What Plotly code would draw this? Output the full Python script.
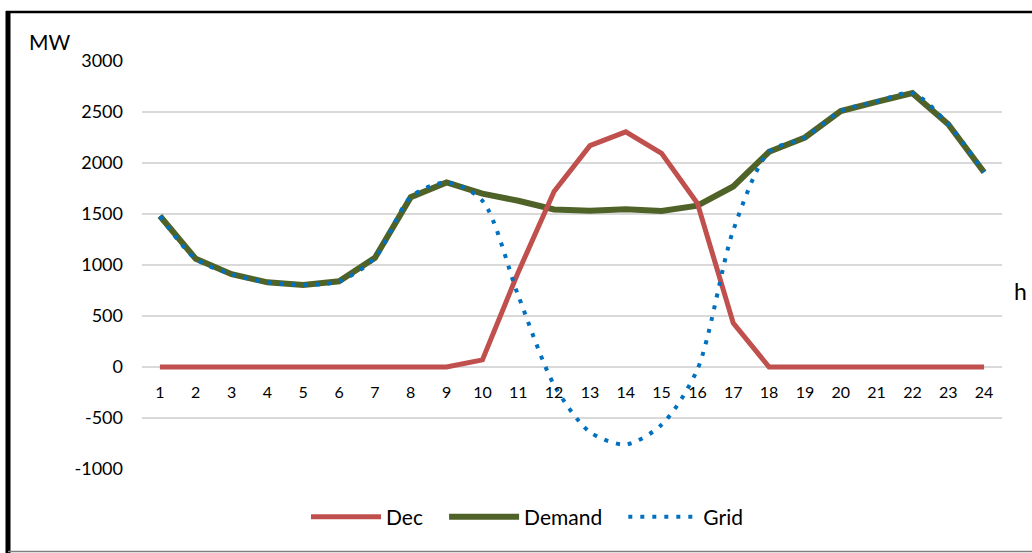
import plotly.graph_objects as go

# Hourly profile (MW)
hours = list(range(1, 25))
dec = [0, 0, 0, 0, 0, 0, 0, 0, 0, 70, 930, 1720, 2170, 2305, 2095, 1605, 430,
       0, 0, 0, 0, 0, 0, 0]
demand = [1480, 1060, 910, 830, 805, 840, 1070, 1665, 1810, 1700, 1630, 1545,
          1532, 1546, 1529, 1582, 1770, 2110, 2250, 2510, 2600, 2685, 2380, 1910]
grid = [d - p for d, p in zip(demand, dec)]

y_ticks = [-1000, -500, 0, 500, 1000, 1500, 2000, 2500, 3000]
y_ticktext = [str(v) for v in y_ticks]  # plain hyphen for negatives

FONT = "Lato"
W, H = 1032, 553
ML, MR, MT, MB = 142, 30, 61, 84
PW, PH = W - ML - MR, H - MT - MB
PAD = "\u00a0" * 3  # extra spacing between legend entries


def px_x(x):
    return (x - ML) / PW


def px_y(y):
    return (H - MB - y) / PH


fig = go.Figure()
fig.add_trace(go.Scatter(
    x=hours, y=demand, name="Demand" + PAD, mode="lines", legendrank=2,
    line=dict(color="#4F6228", width=6),
))
fig.add_trace(go.Scatter(
    x=hours, y=dec, name="Dec" + PAD, mode="lines", legendrank=1,
    line=dict(color="#C0504D", width=5),
))
fig.add_trace(go.Scatter(
    x=hours, y=grid, name="Grid", mode="lines", legendrank=3,
    line=dict(color="#0070C0", width=4, dash="4px,8px", shape="spline", smoothing=0.8),
))

fig.update_layout(
    width=W, height=H,
    margin=dict(l=ML, r=MR, t=MT, b=MB),
    paper_bgcolor="white", plot_bgcolor="white",
    font=dict(family=FONT, color="black"),
    showlegend=True,
    legend=dict(
        orientation="h", x=px_x(527), xanchor="center",
        y=px_y(517), yanchor="middle", itemwidth=70,
        font=dict(size=21, family=FONT), bgcolor="rgba(0,0,0,0)",
    ),
    xaxis=dict(
        range=[0.5, 24.5], tickmode="array", tickvals=hours,
        ticktext=[str(h) for h in hours],
        showgrid=False, zeroline=False, showline=False,
        anchor="free", position=0.25,
        ticks="", ticklabelstandoff=14,
        tickfont=dict(size=16, family=FONT),
    ),
    yaxis=dict(
        range=[-1000, 3000], tickmode="array", tickvals=y_ticks,
        ticktext=y_ticktext,
        showgrid=True, gridcolor="#D9D9D9", gridwidth=1.5,
        zeroline=False, showline=False, ticks="",
        ticklabelstandoff=18,
        tickfont=dict(size=18, family=FONT),
    ),
    annotations=[
        dict(text="MW", xref="paper", yref="paper", x=px_x(27), y=px_y(42),
             xanchor="left", yanchor="middle", showarrow=False,
             font=dict(size=21, family=FONT)),
        dict(text="h", xref="paper", yref="paper", x=px_x(1012), y=px_y(291),
             xanchor="left", yanchor="middle", showarrow=False,
             font=dict(size=23, family=FONT)),
    ],
    shapes=[
        dict(type="line", xref="paper", yref="paper",
             x0=px_x(8), x1=px_x(8), y0=px_y(11), y1=px_y(553),
             line=dict(color="black", width=5)),
        dict(type="line", xref="paper", yref="paper",
             x0=px_x(6), x1=px_x(1032), y0=px_y(12), y1=px_y(12),
             line=dict(color="black", width=2.5)),
        dict(type="line", xref="paper", yref="paper",
             x0=px_x(8), x1=px_x(1032), y0=px_y(551.5), y1=px_y(551.5),
             line=dict(color="#808080", width=1.5)),
    ],
)

fig.write_html("out.html")
